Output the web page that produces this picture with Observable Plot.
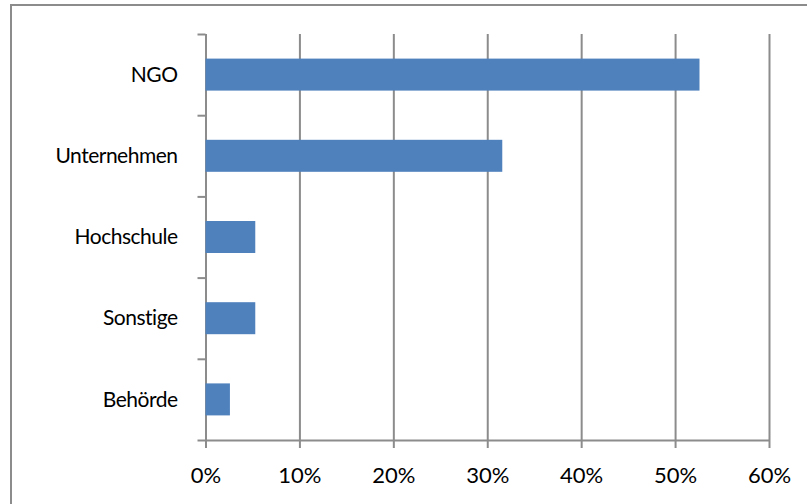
<!DOCTYPE html>
<html>
<head>
<meta charset="utf-8">
<script src="https://cdn.jsdelivr.net/npm/d3@7"></script>
<script src="https://cdn.jsdelivr.net/npm/@observablehq/plot@0.6"></script>
<style>
  html, body { margin: 0; padding: 0; background: #fff; overflow: hidden; }
  #wrap { position: relative; width: 807px; height: 504px; overflow: hidden; }
  #border { position: absolute; left: 10px; top: 4px; width: 900px; height: 600px; border: 2px solid #8c8c8c; box-sizing: border-box; pointer-events: none; }
  #chart { position: absolute; left: 0; top: 0; }
  #chart svg text { font-variant-ligatures: none; }
  #chart svg .catlabel text { letter-spacing: -0.5px; }
</style>
</head>
<body>
<div id="wrap"><div id="border"></div><div id="chart"></div></div>
<script>
const categories = ["NGO", "Unternehmen", "Hochschule", "Sonstige", "Behörde"];
const values = [0.526, 0.316, 0.053, 0.053, 0.026];
const xTicks = [0, 0.1, 0.2, 0.3, 0.4, 0.5, 0.6];

const data = categories.map((c, i) => ({c, i, v: values[i]}));
const boundaries = d3.range(categories.length + 1);
const grey = "#8c8c8c";

const plot = Plot.plot({
  width: 807,
  height: 504,
  marginLeft: 205.5,
  marginRight: 38,
  marginTop: 34,
  marginBottom: 64,
  style: {fontFamily: "Lato", fontSize: "22px", color: "#000", background: "transparent", overflow: "visible"},
  x: {domain: [0, 0.6], label: null},
  y: {domain: [categories.length, 0], label: null},
  marks: [
    Plot.ruleX(xTicks, {stroke: grey, strokeWidth: 2}),
    Plot.rectX(data, {x1: 0, x2: "v", y1: "i", y2: d => d.i + 1, insetTop: 24.6, insetBottom: 24.6, fill: "#4F81BD"}),
    Plot.ruleY([categories.length], {stroke: grey, strokeWidth: 2}),
    Plot.axisY({ticks: boundaries, tickSize: 8, tickFormat: () => "", stroke: grey, strokeWidth: 2, label: null}),
    Plot.text(data, {x: 0, y: d => d.i + 0.5, text: "c", textAnchor: "end", dx: -28.5, fontSize: 21, fill: "#000", className: "catlabel"}),
    Plot.axisX({ticks: xTicks, tickFormat: d3.format(".0%"), tickSize: 8, tickPadding: 18.4, stroke: grey, strokeWidth: 2, fill: "#000", fontSize: 22, label: null})
  ]
});
document.getElementById("chart").appendChild(plot);
</script>
</body>
</html>
